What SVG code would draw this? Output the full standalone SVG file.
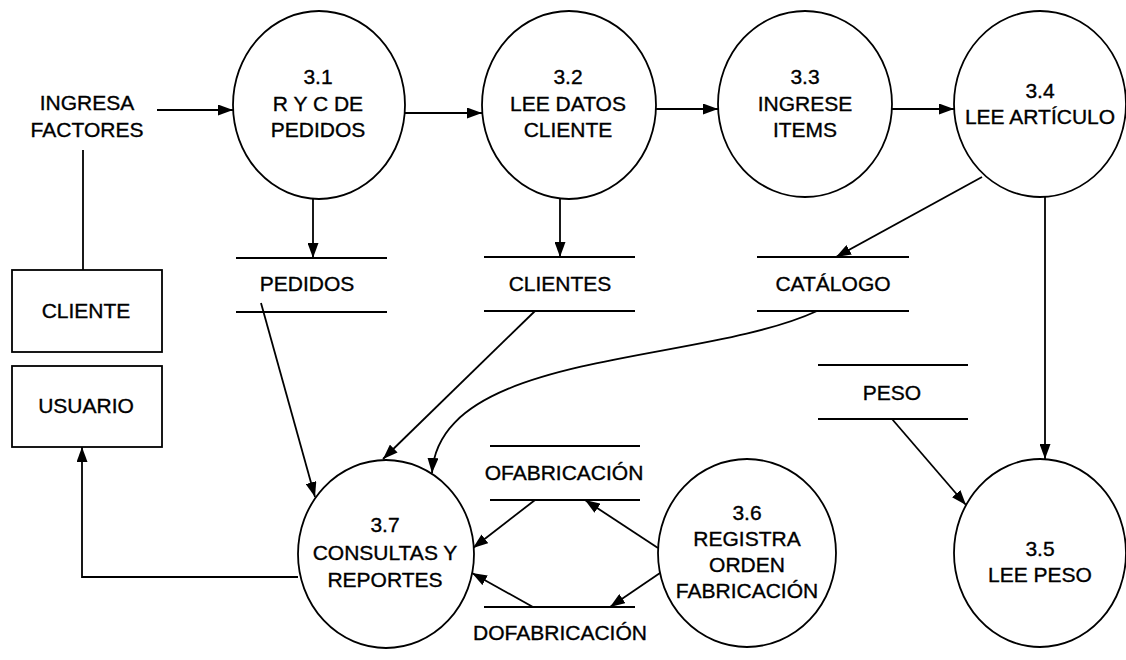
<svg xmlns="http://www.w3.org/2000/svg" width="1126" height="660" viewBox="0 0 1126 660">
  <defs>
    <marker id="arrow" markerWidth="15" markerHeight="11" refX="15" refY="5.5" orient="auto" markerUnits="userSpaceOnUse">
      <path d="M0,0 L15,5.5 L0,11 z" fill="#000"/>
    </marker>
    <style>
      .proc { fill: #fff; stroke: #000; stroke-width: 1.8; }
      .ent { fill: #fff; stroke: #000; stroke-width: 1.8; }
      .store { stroke: #000; stroke-width: 1.8; }
      .flow { fill: none; stroke: #000; stroke-width: 1.8; }
      .arr { marker-end: url(#arrow); }
      text { font-family: "Liberation Sans", Arial, sans-serif; font-size: 21px; fill: #000; stroke: #000; stroke-width: 0.35; text-anchor: middle; }
    </style>
  </defs>
  <rect width="1126" height="660" fill="#fff"/>

  <!-- data flows -->
  <g id="connectors">
    <line class="flow arr" x1="157" y1="110" x2="233" y2="110"/>
    <line class="flow" x1="83" y1="150" x2="83" y2="270"/>
    <line class="flow arr" x1="405" y1="113" x2="482" y2="113"/>
    <line class="flow arr" x1="656" y1="109" x2="718" y2="109"/>
    <line class="flow arr" x1="892" y1="109" x2="954" y2="109"/>
    <line class="flow arr" x1="313" y1="199" x2="313" y2="258"/>
    <line class="flow arr" x1="560" y1="199" x2="560" y2="257"/>
    <line class="flow arr" x1="982" y1="177" x2="836" y2="257"/>
    <line class="flow arr" x1="1045" y1="197" x2="1045" y2="459"/>
    <line class="flow arr" x1="892" y1="419" x2="966" y2="505"/>
    <line class="flow arr" x1="261" y1="303" x2="315" y2="497"/>
    <line class="flow arr" x1="535" y1="311" x2="383" y2="459"/>
    <path class="flow arr" d="M817,311 C700,365 440,350 432,473"/>
    <line class="flow arr" x1="535" y1="500" x2="473" y2="548"/>
    <line class="flow arr" x1="658" y1="548" x2="585" y2="500"/>
    <line class="flow arr" x1="660" y1="573" x2="610" y2="607"/>
    <line class="flow arr" x1="533" y1="607" x2="472" y2="573"/>
    <path class="flow arr" d="M298,577 H82 V447"/>
  </g>

  <!-- input label -->
  <g id="ingresa-factores">
    <text x="87" y="110">INGRESA</text>
    <text x="87" y="137">FACTORES</text>
  </g>

  <!-- external entities -->
  <g id="cliente">
    <rect class="ent" x="12" y="270" width="150" height="82"/>
    <text x="86" y="318">CLIENTE</text>
  </g>
  <g id="usuario">
    <rect class="ent" x="12" y="366" width="150" height="81"/>
    <text x="86" y="413">USUARIO</text>
  </g>

  <!-- processes -->
  <g id="p31">
    <ellipse class="proc" cx="319" cy="105" rx="86" ry="94"/>
    <text x="318" y="84">3.1</text>
    <text x="318" y="111">R Y C DE</text>
    <text x="318" y="137">PEDIDOS</text>
  </g>
  <g id="p32">
    <ellipse class="proc" cx="569" cy="105" rx="87" ry="94"/>
    <text x="568" y="84">3.2</text>
    <text x="568" y="111">LEE DATOS</text>
    <text x="568" y="137">CLIENTE</text>
  </g>
  <g id="p33">
    <ellipse class="proc" cx="805" cy="104" rx="87" ry="93"/>
    <text x="805" y="84">3.3</text>
    <text x="805" y="111">INGRESE</text>
    <text x="805" y="137">ITEMS</text>
  </g>
  <g id="p34">
    <ellipse class="proc" cx="1040" cy="104" rx="86" ry="93"/>
    <text x="1040" y="98">3.4</text>
    <text x="1040" y="124">LEE ARTÍCULO</text>
  </g>
  <g id="p35">
    <ellipse class="proc" cx="1040" cy="553" rx="86" ry="94"/>
    <text x="1040" y="556">3.5</text>
    <text x="1040" y="582">LEE PESO</text>
  </g>
  <g id="p36">
    <ellipse class="proc" cx="747" cy="553" rx="89" ry="94"/>
    <text x="747" y="520">3.6</text>
    <text x="747" y="546">REGISTRA</text>
    <text x="747" y="572">ORDEN</text>
    <text x="747" y="598">FABRICACIÓN</text>
  </g>
  <g id="p37">
    <ellipse class="proc" cx="386" cy="554" rx="88" ry="94"/>
    <text x="385" y="532">3.7</text>
    <text x="385" y="560">CONSULTAS Y</text>
    <text x="385" y="587">REPORTES</text>
  </g>

  <!-- data stores -->
  <g id="pedidos">
    <line class="store" x1="236" y1="258" x2="387" y2="258"/>
    <line class="store" x1="236" y1="312" x2="387" y2="312"/>
    <text x="307" y="291">PEDIDOS</text>
  </g>
  <g id="clientes">
    <line class="store" x1="484" y1="257" x2="635" y2="257"/>
    <line class="store" x1="484" y1="311" x2="635" y2="311"/>
    <text x="560" y="291">CLIENTES</text>
  </g>
  <g id="catalogo">
    <line class="store" x1="757" y1="257" x2="909" y2="257"/>
    <line class="store" x1="757" y1="311" x2="909" y2="311"/>
    <text x="833" y="291">CATÁLOGO</text>
  </g>
  <g id="peso">
    <line class="store" x1="818" y1="365" x2="968" y2="365"/>
    <line class="store" x1="818" y1="419" x2="968" y2="419"/>
    <text x="892" y="400">PESO</text>
  </g>
  <g id="ofabricacion">
    <line class="store" x1="490" y1="446" x2="640" y2="446"/>
    <line class="store" x1="490" y1="500" x2="640" y2="500"/>
    <text x="564" y="480">OFABRICACIÓN</text>
  </g>
  <g id="dofabricacion">
    <line class="store" x1="484" y1="607" x2="635" y2="607"/>
    <text x="560" y="640">DOFABRICACIÓN</text>
  </g>
</svg>
